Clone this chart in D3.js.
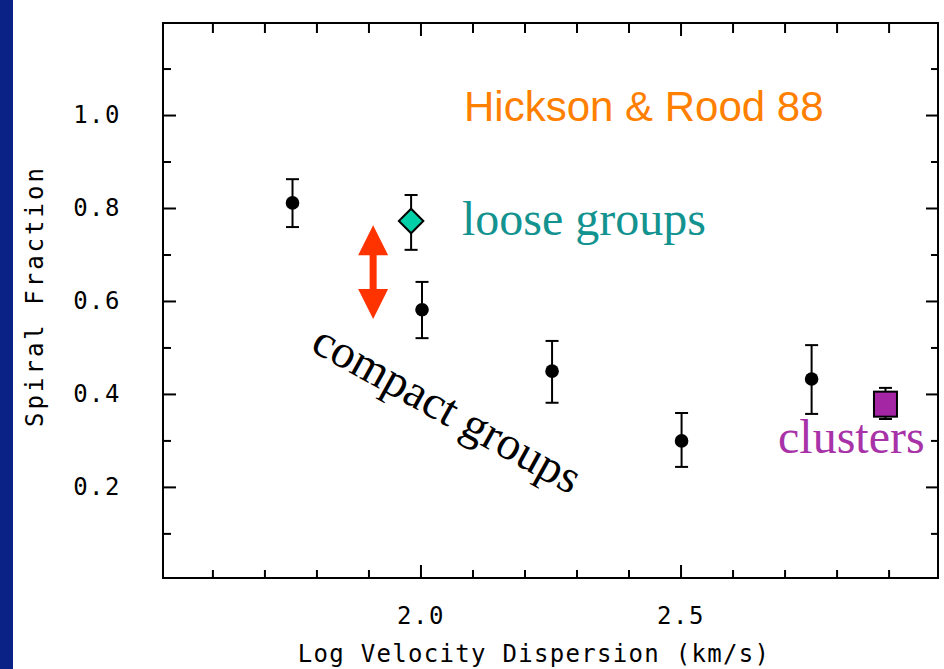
<!DOCTYPE html>
<html>
<head>
<meta charset="utf-8">
<script src="https://cdn.jsdelivr.net/npm/d3@7"></script>
<style>
  html, body { margin: 0; padding: 0; background: #fff; }
  svg { display: block; }
  .mono { font-family: "DejaVu Sans Mono", "Liberation Mono", monospace; font-size: 24px; fill: #000; }
  .axis .domain { display: none; }
  .axis line { stroke: #000; stroke-width: 2; }
</style>
</head>
<body>
<div id="chart"></div>
<script>
"use strict";

// compact groups (Hickson & Rood 88)
var logSigma = [1.754, 2.003, 2.253, 2.502, 2.752];
var spiralFrac = [0.811, 0.581, 0.449, 0.299, 0.432];
var errHigh = [0.862, 0.641, 0.514, 0.359, 0.505];
var errLow = [0.759, 0.520, 0.381, 0.243, 0.357];

// loose groups
var looseX = [1.982];
var looseY = [0.772];
var looseHigh = [0.828];
var looseLow = [0.710];

// clusters
var clusterX = [2.894];
var clusterY = [0.378];
var clusterHigh = [0.413];
var clusterLow = [0.346];

// arrow between loose and compact groups
var arrowX = 1.909;
var arrowFrom = 0.763;
var arrowTo = 0.561;

// ticks
var xMajor = [2.0, 2.5];
var xMinor = [1.6, 1.7, 1.8, 1.9, 2.1, 2.2, 2.3, 2.4, 2.6, 2.7, 2.8, 2.9];
var yMajor = [0.2, 0.4, 0.6, 0.8, 1.0];
var yMinor = [0.1, 0.3, 0.5, 0.7, 0.9, 1.1];

var WIDTH = 944;
var HEIGHT = 669;
var CAP = 6.5;

var svg = d3.select('#chart').append('svg')
  .attr('width', WIDTH)
  .attr('height', HEIGHT);

// blue slide strip on the left
svg.append('rect').attr('x', 0).attr('y', 0).attr('width', 13).attr('height', HEIGHT).attr('fill', '#0a2185');

var x = d3.scaleLinear().domain([1.505, 2.995]).range([163, 938]);
var y = d3.scaleLinear().domain([0.004, 1.198]).range([578, 23]);

// frame
svg.append('rect')
  .attr('x', x.range()[0]).attr('y', y.range()[1])
  .attr('width', x.range()[1] - x.range()[0])
  .attr('height', y.range()[0] - y.range()[1])
  .attr('fill', 'none').attr('stroke', '#000').attr('stroke-width', 2);

// inward ticks on all four sides
function addAxis(axis, transform, values, size, padding, labels) {
  var g = svg.append('g').attr('class', 'axis').attr('transform', transform)
    .call(axis.tickValues(values).tickSizeInner(-size).tickSizeOuter(0).tickPadding(padding)
      .tickFormat(labels ? d3.format('.1f') : ''));
  g.selectAll('text').attr('class', 'mono').attr('font-size', null).attr('font-family', null)
    .style('letter-spacing', '1.5px');
  return g;
}
addAxis(d3.axisBottom(x), 'translate(0,' + y.range()[0] + ')', xMajor, 13, 29, true);
addAxis(d3.axisBottom(x), 'translate(0,' + y.range()[0] + ')', xMinor, 8, 0, false);
addAxis(d3.axisTop(x), 'translate(0,' + y.range()[1] + ')', xMajor, 13, 0, false);
addAxis(d3.axisTop(x), 'translate(0,' + y.range()[1] + ')', xMinor, 10, 0, false);
addAxis(d3.axisLeft(y), 'translate(' + x.range()[0] + ',0)', yMajor, 13, 42, true);
addAxis(d3.axisLeft(y), 'translate(' + x.range()[0] + ',0)', yMinor, 8, 0, false);
addAxis(d3.axisRight(y), 'translate(' + x.range()[1] + ',0)', yMajor, 12, 0, false);
addAxis(d3.axisRight(y), 'translate(' + x.range()[1] + ',0)', yMinor, 7, 0, false);

// axis titles
svg.append('text').attr('class', 'mono')
  .attr('x', 534).attr('y', 662)
  .attr('text-anchor', 'middle')
  .style('letter-spacing', '1.3px')
  .text('Log Velocity Dispersion (km/s)');

svg.append('text').attr('class', 'mono')
  .attr('transform', 'translate(43,296) rotate(-90)')
  .attr('text-anchor', 'middle')
  .style('letter-spacing', '3px')
  .text('Spiral Fraction');

// error bars with caps
function errorBars(xs, lows, highs) {
  var g = svg.append('g').attr('stroke', '#000').attr('stroke-width', 2);
  xs.forEach(function (v, i) {
    g.append('line').attr('x1', x(v)).attr('x2', x(v)).attr('y1', y(lows[i])).attr('y2', y(highs[i]));
    [lows[i], highs[i]].forEach(function (e) {
      g.append('line').attr('x1', x(v) - CAP).attr('x2', x(v) + CAP).attr('y1', y(e)).attr('y2', y(e));
    });
  });
}
errorBars(logSigma, errLow, errHigh);
errorBars(looseX, looseLow, looseHigh);
errorBars(clusterX, clusterLow, clusterHigh);

// compact groups points
svg.append('g').selectAll('circle')
  .data(logSigma).enter().append('circle')
  .attr('cx', function (d) { return x(d); })
  .attr('cy', function (d, i) { return y(spiralFrac[i]); })
  .attr('r', 6.8)
  .attr('fill', '#000');

// loose groups diamond
svg.append('g').selectAll('path')
  .data(looseX).enter().append('path')
  .attr('d', d3.symbol(d3.symbolSquare, 300))
  .attr('transform', function (d, i) { return 'translate(' + x(d) + ',' + y(looseY[i]) + ') rotate(45)'; })
  .attr('fill', '#00cfa8').attr('stroke', '#000').attr('stroke-width', 2);

// clusters square
svg.append('g').selectAll('rect')
  .data(clusterX).enter().append('rect')
  .attr('x', function (d) { return x(d) - 11.5; })
  .attr('y', function (d, i) { return y(clusterY[i]) - 12.5; })
  .attr('width', 23).attr('height', 25)
  .attr('fill', '#a526a5').attr('stroke', '#000').attr('stroke-width', 2);

// red double arrow
var ax = x(arrowX), ay1 = y(arrowFrom), ay2 = y(arrowTo);
var HEAD = 30, HALF = 15, SHAFT = 3.5;
var arrow = d3.path();
arrow.moveTo(ax, ay1);
arrow.lineTo(ax + HALF, ay1 + HEAD);
arrow.lineTo(ax + SHAFT, ay1 + HEAD);
arrow.lineTo(ax + SHAFT, ay2 - HEAD);
arrow.lineTo(ax + HALF, ay2 - HEAD);
arrow.lineTo(ax, ay2);
arrow.lineTo(ax - HALF, ay2 - HEAD);
arrow.lineTo(ax - SHAFT, ay2 - HEAD);
arrow.lineTo(ax - SHAFT, ay1 + HEAD);
arrow.lineTo(ax - HALF, ay1 + HEAD);
arrow.closePath();
svg.append('path').attr('d', arrow.toString()).attr('fill', '#ff3300');

// annotations
svg.append('text')
  .attr('x', 464).attr('y', 121)
  .attr('font-family', 'Liberation Sans, Arial, sans-serif').attr('font-size', 42)
  .attr('fill', '#ff7f00')
  .text('Hickson & Rood 88');

svg.append('text')
  .attr('x', 462).attr('y', 235)
  .attr('font-family', 'Liberation Serif, Times New Roman, serif').attr('font-size', 48)
  .attr('fill', '#139390')
  .text('loose groups');

svg.append('text')
  .attr('x', 778).attr('y', 453)
  .attr('font-family', 'Liberation Serif, Times New Roman, serif').attr('font-size', 48)
  .attr('fill', '#a833a8')
  .text('clusters');

svg.append('text')
  .attr('transform', 'translate(309,350) rotate(29)')
  .attr('font-family', 'Liberation Serif, Times New Roman, serif').attr('font-size', 47)
  .attr('fill', '#000')
  .text('compact groups');
</script>
</body>
</html>
